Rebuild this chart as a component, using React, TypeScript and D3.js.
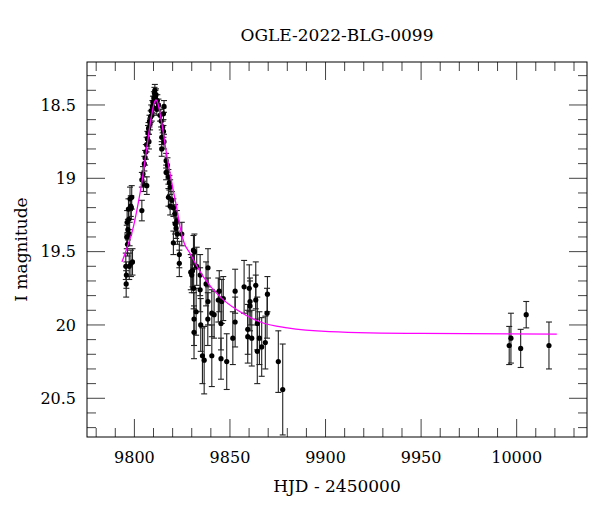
import React, { useEffect } from "react";
import * as d3 from "d3";

// OGLE photometry: HJD - 2450000, I mag, 1-sigma error
const hjd = [
  9795.5, 9795.7, 9795.8, 9796.0, 9796.2, 9796.4, 9796.6, 9796.9, 9797.1, 9797.3,
  9797.5, 9797.7, 9798.1, 9798.2, 9798.4, 9798.6, 9799.0,
  9803.9, 9803.9, 9804.5, 9804.7, 9805.2, 9805.6, 9806.0, 9806.5, 9806.4, 9806.8,
  9807.1, 9807.4, 9807.6, 9807.9, 9808.2, 9808.5, 9808.8, 9809.1, 9809.4, 9809.7,
  9810.0, 9810.2, 9810.5, 9810.7, 9811.0,
  9811.3, 9811.7, 9812.0, 9812.6, 9813.4, 9814.0, 9814.3, 9814.3, 9814.8, 9815.2,
  9815.2, 9815.5, 9815.5, 9816.6, 9816.6, 9817.3, 9817.8, 9817.8, 9818.3, 9818.7,
  9818.7, 9819.6, 9820.4, 9820.4, 9821.3, 9821.3, 9821.8, 9822.2, 9822.5, 9823.5,
  9823.5, 9824.8,
  9830.9, 9831.4, 9829.5, 9830.0, 9830.4, 9832.6, 9831.0, 9832.3, 9831.2, 9831.2,
  9834.4, 9834.4, 9834.7, 9835.6, 9836.5, 9837.5, 9838.5, 9838.5, 9838.4, 9840.5,
  9840.5, 9841.7, 9843.9, 9844.4, 9845.3, 9845.7, 9846.5, 9845.3, 9848.3, 9851.5,
  9852.7, 9852.7, 9857.4, 9859.3, 9859.3, 9860.1, 9860.5, 9860.5, 9861.4, 9863.5,
  9863.5, 9864.3, 9864.3, 9865.4, 9866.6, 9868.5, 9869.4, 9869.6, 9875.3, 9877.6,
  9996.1, 9997.0, 10002.1, 10005.0, 10016.9,
];
const mag = [
  19.6, 19.72, 19.66, 19.4, 19.3, 19.45, 19.35, 19.21, 19.28, 19.6,
  19.38, 19.14, 19.19, 19.58, 19.2, 19.13, 19.57,
  19.22, 19.01, 18.97, 19.04, 18.9, 18.86, 18.82, 19.05, 18.77, 18.73,
  18.69, 18.66, 18.75, 18.61, 18.63, 18.58, 18.54, 18.57, 18.51, 18.48,
  18.52, 18.45, 18.42, 18.4, 18.44,
  18.43, 18.53, 18.47, 18.5, 18.57, 18.61, 18.72, 18.8, 18.65, 18.68,
  18.56, 18.51, 18.75, 18.88, 18.96, 18.91, 18.99, 19.13, 19.03, 19.06,
  19.19, 19.15, 19.2, 19.44, 19.24, 19.31, 19.34, 19.29, 19.38, 19.52,
  19.58, 19.38,
  19.49, 19.5, 19.64, 19.66, 19.63, 19.6, 19.75, 19.91, 19.96, 20.05,
  19.76, 19.66, 20.0, 20.21, 20.24, 19.72, 19.61, 19.84, 19.96, 20.21,
  19.92, 19.93, 19.83, 19.77, 19.99, 19.84, 19.82, 20.23, 20.25, 20.09,
  19.77, 19.98, 19.74, 20.03, 20.08, 19.75, 19.84, 19.87, 20.09, 19.73,
  19.83, 20.18, 19.99, 20.09, 20.15, 20.12, 19.92, 19.79, 20.25, 20.44,
  20.14, 20.09, 20.16, 19.93, 20.14,
];
const err = [
  0.09, 0.09, 0.09, 0.08, 0.08, 0.08, 0.07, 0.07, 0.07, 0.09,
  0.08, 0.08, 0.07, 0.09, 0.08, 0.08, 0.09,
  0.07, 0.05, 0.05, 0.05, 0.05, 0.05, 0.05, 0.06, 0.05, 0.05,
  0.05, 0.04, 0.05, 0.04, 0.04, 0.04, 0.04, 0.04, 0.04, 0.04,
  0.04, 0.04, 0.04, 0.04, 0.04,
  0.04, 0.04, 0.04, 0.04, 0.04, 0.04, 0.05, 0.05, 0.04, 0.04,
  0.04, 0.04, 0.05, 0.05, 0.05, 0.05, 0.05, 0.06, 0.05, 0.05,
  0.06, 0.06, 0.06, 0.08, 0.06, 0.07, 0.07, 0.07, 0.07, 0.09,
  0.09, 0.08,
  0.1, 0.12, 0.12, 0.12, 0.11, 0.13, 0.14, 0.16, 0.18, 0.18,
  0.15, 0.14, 0.18, 0.19, 0.23, 0.15, 0.13, 0.16, 0.18, 0.21,
  0.16, 0.16, 0.15, 0.14, 0.18, 0.15, 0.15, 0.14, 0.19, 0.18,
  0.15, 0.17, 0.18, 0.17, 0.18, 0.16, 0.16, 0.17, 0.19, 0.16,
  0.17, 0.22, 0.18, 0.18, 0.2, 0.18, 0.17, 0.12, 0.21, 0.31,
  0.13, 0.17, 0.13, 0.09, 0.16,
];

// model light curve (magenta)
const modelHjd = [
  9793.5, 9796.0, 9799.5, 9802.0, 9804.0, 9806.5, 9809.0, 9810.3, 9811.3, 9812.3,
  9813.6, 9817.3, 9820.0, 9822.4, 9824.0, 9826.0, 9829.0, 9836.0, 9845.0, 9854.0,
  9867.0, 9880.0, 9902.0, 9950.0, 10021.0,
];
const modelMag = [
  19.57, 19.48, 19.33, 19.17, 19.02, 18.79, 18.57, 18.49, 18.466, 18.49,
  18.57, 18.87, 19.06, 19.22, 19.34, 19.44, 19.51, 19.67, 19.81, 19.9,
  19.985, 20.02, 20.045, 20.058, 20.062,
];

const xTicks = [9800, 9850, 9900, 9950, 10000];
const yTicks = [18.5, 19, 19.5, 20, 20.5];

const W = 600;
const H = 512;
const left = 87;
const right = 587;
const top = 62;
const bottom = 437;
const font = "'DejaVu Serif', serif";

export default function App() {
  useEffect(() => {
    document.body.style.margin = "0";
  }, []);

  const x = d3.scaleLinear().domain([9775.2, 10036.8]).range([left, right]);
  const y = d3.scaleLinear().domain([18.207, 20.764]).range([top, bottom]);

  const xMinor = d3.range(9780, 10031, 10).filter((v) => v % 50 !== 0);
  const yMinor = d3
    .range(183, 208, 1)
    .filter((v) => v % 5 !== 0)
    .map((v) => v / 10);

  const pts = hjd.map((t, i) => ({ t, m: mag[i], e: err[i] }));
  const model = modelHjd.map((t, i) => ({ t, m: modelMag[i] }));
  const modelLine = d3
    .line<{ t: number; m: number }>()
    .x((d) => x(d.t))
    .y((d) => y(d.m))
    .curve(d3.curveMonotoneX);

  const tickCol = "#444";
  const cap = 3;

  return (
    <svg width={W} height={H} style={{ display: "block" }}>
      <defs>
        <clipPath id="plot">
          <rect x={left} y={top} width={right - left} height={bottom - top} />
        </clipPath>
      </defs>
      <rect width={W} height={H} fill="#fff" />

      <text x={(left + right) / 2} y={41} textAnchor="middle" fontFamily={font} fontSize={17}>
        OGLE-2022-BLG-0099
      </text>

      {/* ticks */}
      <g stroke={tickCol} strokeWidth={1}>
        {xTicks.map((v) => (
          <g key={"xt" + v}>
            <line x1={x(v)} x2={x(v)} y1={bottom} y2={bottom - 18} />
            <line x1={x(v)} x2={x(v)} y1={top} y2={top + 18} />
          </g>
        ))}
        {xMinor.map((v) => (
          <g key={"xm" + v}>
            <line x1={x(v)} x2={x(v)} y1={bottom} y2={bottom - 9} />
            <line x1={x(v)} x2={x(v)} y1={top} y2={top + 9} />
          </g>
        ))}
        {yTicks.map((v) => (
          <g key={"yt" + v}>
            <line x1={left} x2={left + 18} y1={y(v)} y2={y(v)} />
            <line x1={right} x2={right - 18} y1={y(v)} y2={y(v)} />
          </g>
        ))}
        {yMinor.map((v) => (
          <g key={"ym" + v}>
            <line x1={left} x2={left + 9} y1={y(v)} y2={y(v)} />
            <line x1={right} x2={right - 9} y1={y(v)} y2={y(v)} />
          </g>
        ))}
      </g>

      {/* data */}
      <g clipPath="url(#plot)">
        <g stroke="#222" strokeWidth={1.1}>
          {pts.map((d, i) => (
            <g key={"e" + i}>
              <line x1={x(d.t)} x2={x(d.t)} y1={y(d.m - d.e)} y2={y(d.m + d.e)} />
              <line x1={x(d.t) - cap} x2={x(d.t) + cap} y1={y(d.m - d.e)} y2={y(d.m - d.e)} />
              <line x1={x(d.t) - cap} x2={x(d.t) + cap} y1={y(d.m + d.e)} y2={y(d.m + d.e)} />
            </g>
          ))}
        </g>
        {pts.map((d, i) => (
          <circle key={"p" + i} cx={x(d.t)} cy={y(d.m)} r={2.6} fill="#000" />
        ))}
        <path d={modelLine(model) || ""} fill="none" stroke="#ff00ff" strokeWidth={1.3} />
      </g>

      <rect x={left} y={top} width={right - left} height={bottom - top} fill="none" stroke="#000" strokeWidth={1} />

      {/* tick labels */}
      {xTicks.map((v) => (
        <text key={"xl" + v} x={x(v)} y={463} textAnchor="middle" fontFamily={font} fontSize={16}>
          {v}
        </text>
      ))}
      {yTicks.map((v) => (
        <text key={"yl" + v} x={76} y={y(v)} dy="0.36em" textAnchor="end" fontFamily={font} fontSize={16}>
          {v}
        </text>
      ))}

      <text x={(left + right) / 2} y={492} textAnchor="middle" fontFamily={font} fontSize={17}>
        HJD - 2450000
      </text>
      <text
        transform={`translate(27,${(top + bottom) / 2}) rotate(-90)`}
        textAnchor="middle"
        fontFamily={font}
        fontSize={17}
      >
        I magnitude
      </text>
    </svg>
  );
}
